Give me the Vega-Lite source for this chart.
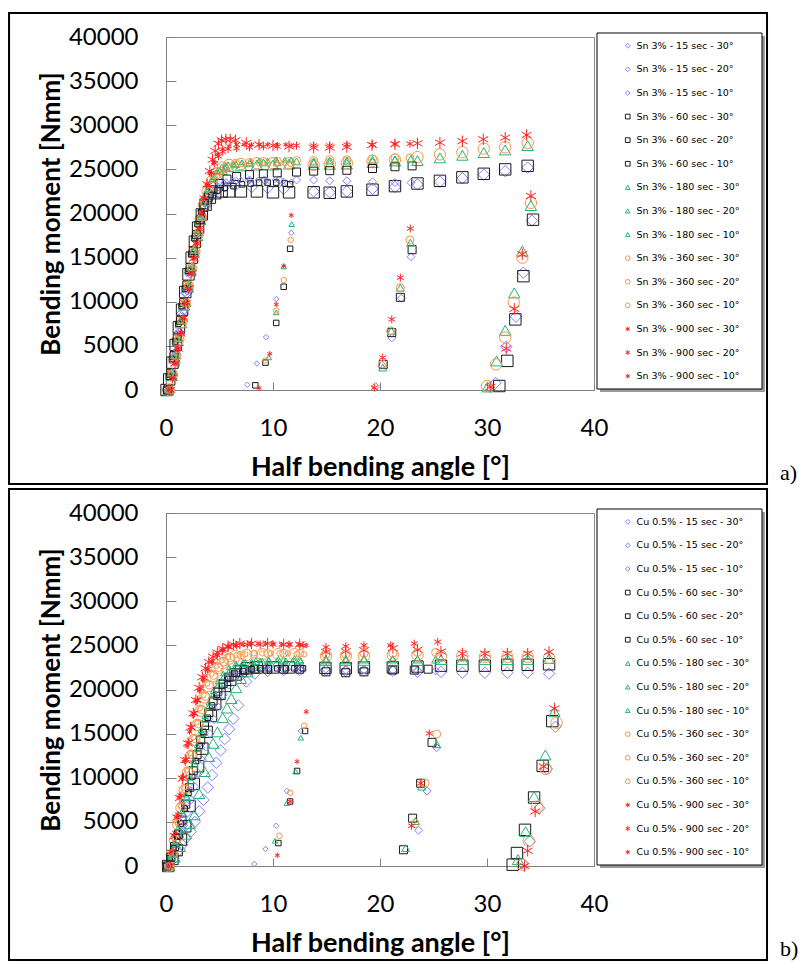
{
"$schema": "https://vega.github.io/schema/vega-lite/v6.json",
"padding": {"left": 7, "top": 11, "right": 0, "bottom": 0},
"background": "white",
"config": {
  "view": {"stroke": "#8c8c8c", "strokeWidth": 1},
  "axis": {"grid": false, "labelFont": "Lato", "labelFontSize": 24, "labelColor": "#000000", "titleFont": "Lato", "titleFontWeight": "bold", "titleColor": "#000000", "domainColor": "#808080", "tickColor": "#808080", "domainWidth": 1, "tickWidth": 1, "labelFlush": false},
  "axisX": {"tickSize": -8, "labelPadding": 34, "titlePadding": 14, "titleFontSize": 27},
  "axisY": {"tickSize": -10, "labelPadding": 38, "titlePadding": 4, "titleFontSize": 26},
  "legend": {"padding": 0, "labelFont": "DejaVu Sans", "labelFontSize": 9.5, "labelColor": "#000000", "symbolSize": 22, "symbolStrokeWidth": 1, "rowPadding": 12.6, "labelOffset": 4},
  "concat": {"spacing": 1}
},
"resolve": {"scale": {"color": "independent", "shape": "independent"}, "legend": {"color": "independent", "shape": "independent"}},
"datasets": {
"a": [
{"s":"Sn 3% - 15 sec - 30°","x":0.15,"y":0},{"s":"Sn 3% - 15 sec - 30°","x":0.5,"y":1800},{"s":"Sn 3% - 15 sec - 30°","x":0.85,"y":4100},{"s":"Sn 3% - 15 sec - 30°","x":1.2,"y":6400},{"s":"Sn 3% - 15 sec - 30°","x":1.55,"y":8700},{"s":"Sn 3% - 15 sec - 30°","x":1.9,"y":11000},{"s":"Sn 3% - 15 sec - 30°","x":2.25,"y":13300},{"s":"Sn 3% - 15 sec - 30°","x":2.6,"y":15500},{"s":"Sn 3% - 15 sec - 30°","x":2.95,"y":17600},{"s":"Sn 3% - 15 sec - 30°","x":3.3,"y":19400},{"s":"Sn 3% - 15 sec - 30°","x":3.7,"y":20900},{"s":"Sn 3% - 15 sec - 30°","x":4.2,"y":22000},{"s":"Sn 3% - 15 sec - 30°","x":4.8,"y":22700},{"s":"Sn 3% - 15 sec - 30°","x":5.5,"y":23100},{"s":"Sn 3% - 15 sec - 30°","x":6.5,"y":23200},{"s":"Sn 3% - 15 sec - 30°","x":8.0,"y":23000},{"s":"Sn 3% - 15 sec - 30°","x":9.5,"y":22900},{"s":"Sn 3% - 15 sec - 30°","x":11.0,"y":22800},{"s":"Sn 3% - 15 sec - 30°","x":13.8,"y":22500},{"s":"Sn 3% - 15 sec - 30°","x":15.3,"y":22400},{"s":"Sn 3% - 15 sec - 30°","x":16.9,"y":22500},{"s":"Sn 3% - 15 sec - 30°","x":19.3,"y":22800},{"s":"Sn 3% - 15 sec - 30°","x":21.4,"y":23000},{"s":"Sn 3% - 15 sec - 30°","x":23.5,"y":23300},{"s":"Sn 3% - 15 sec - 30°","x":25.6,"y":23600},{"s":"Sn 3% - 15 sec - 30°","x":27.7,"y":24000},{"s":"Sn 3% - 15 sec - 30°","x":29.7,"y":24400},{"s":"Sn 3% - 15 sec - 30°","x":31.7,"y":24800},{"s":"Sn 3% - 15 sec - 30°","x":33.8,"y":25200},{"s":"Sn 3% - 15 sec - 30°","x":34.2,"y":19200},{"s":"Sn 3% - 15 sec - 30°","x":33.4,"y":13300},{"s":"Sn 3% - 15 sec - 30°","x":32.7,"y":8300},{"s":"Sn 3% - 15 sec - 30°","x":31.8,"y":4900},{"s":"Sn 3% - 15 sec - 30°","x":30.8,"y":800},
{"s":"Sn 3% - 15 sec - 20°","x":0.25,"y":0},{"s":"Sn 3% - 15 sec - 20°","x":0.6,"y":2000},{"s":"Sn 3% - 15 sec - 20°","x":0.95,"y":4300},{"s":"Sn 3% - 15 sec - 20°","x":1.3,"y":6600},{"s":"Sn 3% - 15 sec - 20°","x":1.65,"y":8900},{"s":"Sn 3% - 15 sec - 20°","x":2.0,"y":11200},{"s":"Sn 3% - 15 sec - 20°","x":2.35,"y":13500},{"s":"Sn 3% - 15 sec - 20°","x":2.7,"y":15700},{"s":"Sn 3% - 15 sec - 20°","x":3.05,"y":17700},{"s":"Sn 3% - 15 sec - 20°","x":3.4,"y":19500},{"s":"Sn 3% - 15 sec - 20°","x":3.8,"y":21000},{"s":"Sn 3% - 15 sec - 20°","x":4.3,"y":22200},{"s":"Sn 3% - 15 sec - 20°","x":4.9,"y":23000},{"s":"Sn 3% - 15 sec - 20°","x":5.6,"y":23500},{"s":"Sn 3% - 15 sec - 20°","x":6.5,"y":23700},{"s":"Sn 3% - 15 sec - 20°","x":7.8,"y":23800},{"s":"Sn 3% - 15 sec - 20°","x":9.2,"y":23800},{"s":"Sn 3% - 15 sec - 20°","x":10.6,"y":23800},{"s":"Sn 3% - 15 sec - 20°","x":12.2,"y":23800},{"s":"Sn 3% - 15 sec - 20°","x":13.8,"y":23800},{"s":"Sn 3% - 15 sec - 20°","x":15.3,"y":23700},{"s":"Sn 3% - 15 sec - 20°","x":16.9,"y":23700},{"s":"Sn 3% - 15 sec - 20°","x":19.3,"y":23600},{"s":"Sn 3% - 15 sec - 20°","x":21.4,"y":23500},{"s":"Sn 3% - 15 sec - 20°","x":22.9,"y":23500},{"s":"Sn 3% - 15 sec - 20°","x":22.9,"y":15100},{"s":"Sn 3% - 15 sec - 20°","x":22.0,"y":10400},{"s":"Sn 3% - 15 sec - 20°","x":21.1,"y":5900},{"s":"Sn 3% - 15 sec - 20°","x":20.2,"y":2800},{"s":"Sn 3% - 15 sec - 20°","x":19.6,"y":400},
{"s":"Sn 3% - 15 sec - 10°","x":0.1,"y":0},{"s":"Sn 3% - 15 sec - 10°","x":0.4,"y":1800},{"s":"Sn 3% - 15 sec - 10°","x":0.75,"y":4000},{"s":"Sn 3% - 15 sec - 10°","x":1.1,"y":6300},{"s":"Sn 3% - 15 sec - 10°","x":1.45,"y":8600},{"s":"Sn 3% - 15 sec - 10°","x":1.8,"y":10900},{"s":"Sn 3% - 15 sec - 10°","x":2.15,"y":13200},{"s":"Sn 3% - 15 sec - 10°","x":2.5,"y":15400},{"s":"Sn 3% - 15 sec - 10°","x":2.85,"y":17500},{"s":"Sn 3% - 15 sec - 10°","x":3.2,"y":19400},{"s":"Sn 3% - 15 sec - 10°","x":3.6,"y":21000},{"s":"Sn 3% - 15 sec - 10°","x":4.1,"y":22300},{"s":"Sn 3% - 15 sec - 10°","x":4.7,"y":23100},{"s":"Sn 3% - 15 sec - 10°","x":5.4,"y":23500},{"s":"Sn 3% - 15 sec - 10°","x":6.2,"y":23700},{"s":"Sn 3% - 15 sec - 10°","x":7.0,"y":23800},{"s":"Sn 3% - 15 sec - 10°","x":7.8,"y":23800},{"s":"Sn 3% - 15 sec - 10°","x":8.6,"y":23800},{"s":"Sn 3% - 15 sec - 10°","x":9.4,"y":23800},{"s":"Sn 3% - 15 sec - 10°","x":10.2,"y":23800},{"s":"Sn 3% - 15 sec - 10°","x":11.0,"y":23700},{"s":"Sn 3% - 15 sec - 10°","x":11.7,"y":23600},{"s":"Sn 3% - 15 sec - 10°","x":11.7,"y":17800},{"s":"Sn 3% - 15 sec - 10°","x":10.3,"y":10300},{"s":"Sn 3% - 15 sec - 10°","x":9.35,"y":6000},{"s":"Sn 3% - 15 sec - 10°","x":8.5,"y":3000},{"s":"Sn 3% - 15 sec - 10°","x":7.6,"y":600},
{"s":"Sn 3% - 60 sec - 30°","x":0.05,"y":0},{"s":"Sn 3% - 60 sec - 30°","x":0.3,"y":1200},{"s":"Sn 3% - 60 sec - 30°","x":0.6,"y":3100},{"s":"Sn 3% - 60 sec - 30°","x":0.9,"y":5100},{"s":"Sn 3% - 60 sec - 30°","x":1.2,"y":7100},{"s":"Sn 3% - 60 sec - 30°","x":1.5,"y":9100},{"s":"Sn 3% - 60 sec - 30°","x":1.8,"y":11100},{"s":"Sn 3% - 60 sec - 30°","x":2.1,"y":13100},{"s":"Sn 3% - 60 sec - 30°","x":2.4,"y":15000},{"s":"Sn 3% - 60 sec - 30°","x":2.7,"y":16800},{"s":"Sn 3% - 60 sec - 30°","x":3.0,"y":18400},{"s":"Sn 3% - 60 sec - 30°","x":3.35,"y":19900},{"s":"Sn 3% - 60 sec - 30°","x":3.7,"y":21000},{"s":"Sn 3% - 60 sec - 30°","x":4.1,"y":21800},{"s":"Sn 3% - 60 sec - 30°","x":4.6,"y":22300},{"s":"Sn 3% - 60 sec - 30°","x":5.2,"y":22500},{"s":"Sn 3% - 60 sec - 30°","x":5.9,"y":22500},{"s":"Sn 3% - 60 sec - 30°","x":7.0,"y":22500},{"s":"Sn 3% - 60 sec - 30°","x":8.5,"y":22500},{"s":"Sn 3% - 60 sec - 30°","x":10.0,"y":22400},{"s":"Sn 3% - 60 sec - 30°","x":11.5,"y":22400},{"s":"Sn 3% - 60 sec - 30°","x":13.8,"y":22400},{"s":"Sn 3% - 60 sec - 30°","x":15.3,"y":22350},{"s":"Sn 3% - 60 sec - 30°","x":16.9,"y":22500},{"s":"Sn 3% - 60 sec - 30°","x":19.3,"y":22700},{"s":"Sn 3% - 60 sec - 30°","x":21.4,"y":23100},{"s":"Sn 3% - 60 sec - 30°","x":23.5,"y":23400},{"s":"Sn 3% - 60 sec - 30°","x":25.6,"y":23700},{"s":"Sn 3% - 60 sec - 30°","x":27.7,"y":24100},{"s":"Sn 3% - 60 sec - 30°","x":29.7,"y":24500},{"s":"Sn 3% - 60 sec - 30°","x":31.7,"y":25000},{"s":"Sn 3% - 60 sec - 30°","x":33.8,"y":25400},{"s":"Sn 3% - 60 sec - 30°","x":34.3,"y":19300},{"s":"Sn 3% - 60 sec - 30°","x":33.4,"y":12900},{"s":"Sn 3% - 60 sec - 30°","x":32.65,"y":8000},{"s":"Sn 3% - 60 sec - 30°","x":31.9,"y":3300},{"s":"Sn 3% - 60 sec - 30°","x":31.15,"y":450},
{"s":"Sn 3% - 60 sec - 20°","x":0.15,"y":0},{"s":"Sn 3% - 60 sec - 20°","x":0.45,"y":1900},{"s":"Sn 3% - 60 sec - 20°","x":0.75,"y":3900},{"s":"Sn 3% - 60 sec - 20°","x":1.05,"y":5900},{"s":"Sn 3% - 60 sec - 20°","x":1.35,"y":7900},{"s":"Sn 3% - 60 sec - 20°","x":1.65,"y":9900},{"s":"Sn 3% - 60 sec - 20°","x":1.95,"y":11900},{"s":"Sn 3% - 60 sec - 20°","x":2.25,"y":13900},{"s":"Sn 3% - 60 sec - 20°","x":2.55,"y":15800},{"s":"Sn 3% - 60 sec - 20°","x":2.85,"y":17600},{"s":"Sn 3% - 60 sec - 20°","x":3.2,"y":19300},{"s":"Sn 3% - 60 sec - 20°","x":3.55,"y":20700},{"s":"Sn 3% - 60 sec - 20°","x":3.95,"y":21800},{"s":"Sn 3% - 60 sec - 20°","x":4.4,"y":22700},{"s":"Sn 3% - 60 sec - 20°","x":5.0,"y":23400},{"s":"Sn 3% - 60 sec - 20°","x":5.7,"y":23900},{"s":"Sn 3% - 60 sec - 20°","x":6.6,"y":24200},{"s":"Sn 3% - 60 sec - 20°","x":7.8,"y":24400},{"s":"Sn 3% - 60 sec - 20°","x":9.1,"y":24500},{"s":"Sn 3% - 60 sec - 20°","x":10.4,"y":24600},{"s":"Sn 3% - 60 sec - 20°","x":12.2,"y":24700},{"s":"Sn 3% - 60 sec - 20°","x":13.8,"y":24800},{"s":"Sn 3% - 60 sec - 20°","x":15.3,"y":24850},{"s":"Sn 3% - 60 sec - 20°","x":16.9,"y":24900},{"s":"Sn 3% - 60 sec - 20°","x":19.3,"y":25100},{"s":"Sn 3% - 60 sec - 20°","x":21.4,"y":25300},{"s":"Sn 3% - 60 sec - 20°","x":23.0,"y":25400},{"s":"Sn 3% - 60 sec - 20°","x":23.0,"y":15900},{"s":"Sn 3% - 60 sec - 20°","x":21.9,"y":10500},{"s":"Sn 3% - 60 sec - 20°","x":21.1,"y":6500},{"s":"Sn 3% - 60 sec - 20°","x":20.3,"y":2900},
{"s":"Sn 3% - 60 sec - 10°","x":0.0,"y":0},{"s":"Sn 3% - 60 sec - 10°","x":0.25,"y":1500},{"s":"Sn 3% - 60 sec - 10°","x":0.55,"y":3500},{"s":"Sn 3% - 60 sec - 10°","x":0.85,"y":5500},{"s":"Sn 3% - 60 sec - 10°","x":1.15,"y":7500},{"s":"Sn 3% - 60 sec - 10°","x":1.45,"y":9500},{"s":"Sn 3% - 60 sec - 10°","x":1.75,"y":11500},{"s":"Sn 3% - 60 sec - 10°","x":2.05,"y":13500},{"s":"Sn 3% - 60 sec - 10°","x":2.35,"y":15400},{"s":"Sn 3% - 60 sec - 10°","x":2.65,"y":17200},{"s":"Sn 3% - 60 sec - 10°","x":2.95,"y":18800},{"s":"Sn 3% - 60 sec - 10°","x":3.3,"y":20200},{"s":"Sn 3% - 60 sec - 10°","x":3.7,"y":21300},{"s":"Sn 3% - 60 sec - 10°","x":4.2,"y":22100},{"s":"Sn 3% - 60 sec - 10°","x":4.8,"y":22600},{"s":"Sn 3% - 60 sec - 10°","x":5.5,"y":22900},{"s":"Sn 3% - 60 sec - 10°","x":6.3,"y":23100},{"s":"Sn 3% - 60 sec - 10°","x":7.1,"y":23300},{"s":"Sn 3% - 60 sec - 10°","x":7.9,"y":23400},{"s":"Sn 3% - 60 sec - 10°","x":8.7,"y":23500},{"s":"Sn 3% - 60 sec - 10°","x":9.5,"y":23500},{"s":"Sn 3% - 60 sec - 10°","x":10.3,"y":23500},{"s":"Sn 3% - 60 sec - 10°","x":11.1,"y":23400},{"s":"Sn 3% - 60 sec - 10°","x":11.6,"y":23300},{"s":"Sn 3% - 60 sec - 10°","x":11.6,"y":16000},{"s":"Sn 3% - 60 sec - 10°","x":11.0,"y":11700},{"s":"Sn 3% - 60 sec - 10°","x":10.3,"y":7600},{"s":"Sn 3% - 60 sec - 10°","x":9.3,"y":3100},{"s":"Sn 3% - 60 sec - 10°","x":8.35,"y":530},
{"s":"Sn 3% - 180 sec - 30°","x":0.2,"y":0},{"s":"Sn 3% - 180 sec - 30°","x":0.5,"y":1600},{"s":"Sn 3% - 180 sec - 30°","x":0.8,"y":3600},{"s":"Sn 3% - 180 sec - 30°","x":1.1,"y":5600},{"s":"Sn 3% - 180 sec - 30°","x":1.4,"y":7600},{"s":"Sn 3% - 180 sec - 30°","x":1.7,"y":9600},{"s":"Sn 3% - 180 sec - 30°","x":2.0,"y":11600},{"s":"Sn 3% - 180 sec - 30°","x":2.3,"y":13600},{"s":"Sn 3% - 180 sec - 30°","x":2.6,"y":15600},{"s":"Sn 3% - 180 sec - 30°","x":2.9,"y":17500},{"s":"Sn 3% - 180 sec - 30°","x":3.2,"y":19300},{"s":"Sn 3% - 180 sec - 30°","x":3.5,"y":20900},{"s":"Sn 3% - 180 sec - 30°","x":3.85,"y":22300},{"s":"Sn 3% - 180 sec - 30°","x":4.25,"y":23500},{"s":"Sn 3% - 180 sec - 30°","x":4.7,"y":24400},{"s":"Sn 3% - 180 sec - 30°","x":5.2,"y":25000},{"s":"Sn 3% - 180 sec - 30°","x":5.8,"y":25300},{"s":"Sn 3% - 180 sec - 30°","x":7.0,"y":25400},{"s":"Sn 3% - 180 sec - 30°","x":8.5,"y":25500},{"s":"Sn 3% - 180 sec - 30°","x":10.0,"y":25500},{"s":"Sn 3% - 180 sec - 30°","x":11.5,"y":25600},{"s":"Sn 3% - 180 sec - 30°","x":13.8,"y":25570},{"s":"Sn 3% - 180 sec - 30°","x":15.3,"y":25570},{"s":"Sn 3% - 180 sec - 30°","x":16.9,"y":25600},{"s":"Sn 3% - 180 sec - 30°","x":19.3,"y":25760},{"s":"Sn 3% - 180 sec - 30°","x":21.4,"y":25950},{"s":"Sn 3% - 180 sec - 30°","x":23.5,"y":26000},{"s":"Sn 3% - 180 sec - 30°","x":25.6,"y":26300},{"s":"Sn 3% - 180 sec - 30°","x":27.7,"y":26600},{"s":"Sn 3% - 180 sec - 30°","x":29.7,"y":26900},{"s":"Sn 3% - 180 sec - 30°","x":31.7,"y":27200},{"s":"Sn 3% - 180 sec - 30°","x":33.8,"y":27700},{"s":"Sn 3% - 180 sec - 30°","x":34.1,"y":20900},{"s":"Sn 3% - 180 sec - 30°","x":33.3,"y":15750},{"s":"Sn 3% - 180 sec - 30°","x":32.55,"y":11000},{"s":"Sn 3% - 180 sec - 30°","x":31.7,"y":6760},{"s":"Sn 3% - 180 sec - 30°","x":30.9,"y":3290},{"s":"Sn 3% - 180 sec - 30°","x":30.06,"y":340},
{"s":"Sn 3% - 180 sec - 20°","x":0.3,"y":0},{"s":"Sn 3% - 180 sec - 20°","x":0.6,"y":1900},{"s":"Sn 3% - 180 sec - 20°","x":0.9,"y":3900},{"s":"Sn 3% - 180 sec - 20°","x":1.2,"y":5900},{"s":"Sn 3% - 180 sec - 20°","x":1.5,"y":7900},{"s":"Sn 3% - 180 sec - 20°","x":1.8,"y":9900},{"s":"Sn 3% - 180 sec - 20°","x":2.1,"y":11900},{"s":"Sn 3% - 180 sec - 20°","x":2.4,"y":13900},{"s":"Sn 3% - 180 sec - 20°","x":2.7,"y":15900},{"s":"Sn 3% - 180 sec - 20°","x":3.0,"y":17800},{"s":"Sn 3% - 180 sec - 20°","x":3.3,"y":19600},{"s":"Sn 3% - 180 sec - 20°","x":3.65,"y":21300},{"s":"Sn 3% - 180 sec - 20°","x":4.0,"y":22700},{"s":"Sn 3% - 180 sec - 20°","x":4.45,"y":23900},{"s":"Sn 3% - 180 sec - 20°","x":5.0,"y":24800},{"s":"Sn 3% - 180 sec - 20°","x":5.6,"y":25300},{"s":"Sn 3% - 180 sec - 20°","x":6.5,"y":25600},{"s":"Sn 3% - 180 sec - 20°","x":7.8,"y":25700},{"s":"Sn 3% - 180 sec - 20°","x":9.1,"y":25800},{"s":"Sn 3% - 180 sec - 20°","x":10.4,"y":25800},{"s":"Sn 3% - 180 sec - 20°","x":12.2,"y":25900},{"s":"Sn 3% - 180 sec - 20°","x":13.8,"y":25900},{"s":"Sn 3% - 180 sec - 20°","x":15.3,"y":26000},{"s":"Sn 3% - 180 sec - 20°","x":16.9,"y":26000},{"s":"Sn 3% - 180 sec - 20°","x":19.3,"y":26100},{"s":"Sn 3% - 180 sec - 20°","x":21.4,"y":26100},{"s":"Sn 3% - 180 sec - 20°","x":22.9,"y":26200},{"s":"Sn 3% - 180 sec - 20°","x":22.85,"y":16700},{"s":"Sn 3% - 180 sec - 20°","x":21.9,"y":11600},{"s":"Sn 3% - 180 sec - 20°","x":21.05,"y":6700},{"s":"Sn 3% - 180 sec - 20°","x":20.25,"y":2550},
{"s":"Sn 3% - 180 sec - 10°","x":0.1,"y":0},{"s":"Sn 3% - 180 sec - 10°","x":0.4,"y":1800},{"s":"Sn 3% - 180 sec - 10°","x":0.7,"y":3800},{"s":"Sn 3% - 180 sec - 10°","x":1.0,"y":5800},{"s":"Sn 3% - 180 sec - 10°","x":1.3,"y":7800},{"s":"Sn 3% - 180 sec - 10°","x":1.6,"y":9800},{"s":"Sn 3% - 180 sec - 10°","x":1.9,"y":11800},{"s":"Sn 3% - 180 sec - 10°","x":2.2,"y":13800},{"s":"Sn 3% - 180 sec - 10°","x":2.5,"y":15800},{"s":"Sn 3% - 180 sec - 10°","x":2.8,"y":17700},{"s":"Sn 3% - 180 sec - 10°","x":3.1,"y":19500},{"s":"Sn 3% - 180 sec - 10°","x":3.45,"y":21200},{"s":"Sn 3% - 180 sec - 10°","x":3.85,"y":22700},{"s":"Sn 3% - 180 sec - 10°","x":4.3,"y":23900},{"s":"Sn 3% - 180 sec - 10°","x":4.8,"y":24800},{"s":"Sn 3% - 180 sec - 10°","x":5.5,"y":25300},{"s":"Sn 3% - 180 sec - 10°","x":6.3,"y":25600},{"s":"Sn 3% - 180 sec - 10°","x":7.1,"y":25800},{"s":"Sn 3% - 180 sec - 10°","x":7.9,"y":25900},{"s":"Sn 3% - 180 sec - 10°","x":8.7,"y":26000},{"s":"Sn 3% - 180 sec - 10°","x":9.5,"y":26000},{"s":"Sn 3% - 180 sec - 10°","x":10.3,"y":26100},{"s":"Sn 3% - 180 sec - 10°","x":11.1,"y":26100},{"s":"Sn 3% - 180 sec - 10°","x":11.7,"y":26100},{"s":"Sn 3% - 180 sec - 10°","x":11.75,"y":18800},{"s":"Sn 3% - 180 sec - 10°","x":11.0,"y":14000},{"s":"Sn 3% - 180 sec - 10°","x":10.3,"y":8800},{"s":"Sn 3% - 180 sec - 10°","x":9.6,"y":3700},
{"s":"Sn 3% - 360 sec - 30°","x":0.25,"y":0},{"s":"Sn 3% - 360 sec - 30°","x":0.55,"y":1700},{"s":"Sn 3% - 360 sec - 30°","x":0.85,"y":3700},{"s":"Sn 3% - 360 sec - 30°","x":1.15,"y":5700},{"s":"Sn 3% - 360 sec - 30°","x":1.45,"y":7700},{"s":"Sn 3% - 360 sec - 30°","x":1.75,"y":9700},{"s":"Sn 3% - 360 sec - 30°","x":2.05,"y":11700},{"s":"Sn 3% - 360 sec - 30°","x":2.35,"y":13700},{"s":"Sn 3% - 360 sec - 30°","x":2.65,"y":15700},{"s":"Sn 3% - 360 sec - 30°","x":2.95,"y":17600},{"s":"Sn 3% - 360 sec - 30°","x":3.25,"y":19400},{"s":"Sn 3% - 360 sec - 30°","x":3.55,"y":21000},{"s":"Sn 3% - 360 sec - 30°","x":3.9,"y":22500},{"s":"Sn 3% - 360 sec - 30°","x":4.3,"y":23700},{"s":"Sn 3% - 360 sec - 30°","x":4.75,"y":24600},{"s":"Sn 3% - 360 sec - 30°","x":5.3,"y":25200},{"s":"Sn 3% - 360 sec - 30°","x":5.9,"y":25500},{"s":"Sn 3% - 360 sec - 30°","x":7.0,"y":25600},{"s":"Sn 3% - 360 sec - 30°","x":8.5,"y":25700},{"s":"Sn 3% - 360 sec - 30°","x":10.0,"y":25700},{"s":"Sn 3% - 360 sec - 30°","x":11.5,"y":25700},{"s":"Sn 3% - 360 sec - 30°","x":13.8,"y":25500},{"s":"Sn 3% - 360 sec - 30°","x":15.3,"y":25600},{"s":"Sn 3% - 360 sec - 30°","x":16.9,"y":25700},{"s":"Sn 3% - 360 sec - 30°","x":19.3,"y":25950},{"s":"Sn 3% - 360 sec - 30°","x":21.4,"y":26100},{"s":"Sn 3% - 360 sec - 30°","x":23.5,"y":26400},{"s":"Sn 3% - 360 sec - 30°","x":25.6,"y":26700},{"s":"Sn 3% - 360 sec - 30°","x":27.7,"y":26950},{"s":"Sn 3% - 360 sec - 30°","x":29.7,"y":27350},{"s":"Sn 3% - 360 sec - 30°","x":31.7,"y":27500},{"s":"Sn 3% - 360 sec - 30°","x":33.8,"y":28000},{"s":"Sn 3% - 360 sec - 30°","x":34.1,"y":21200},{"s":"Sn 3% - 360 sec - 30°","x":33.3,"y":15000},{"s":"Sn 3% - 360 sec - 30°","x":32.5,"y":9900},{"s":"Sn 3% - 360 sec - 30°","x":31.7,"y":5950},{"s":"Sn 3% - 360 sec - 30°","x":30.84,"y":2910},{"s":"Sn 3% - 360 sec - 30°","x":30.0,"y":450},
{"s":"Sn 3% - 360 sec - 20°","x":0.35,"y":0},{"s":"Sn 3% - 360 sec - 20°","x":0.65,"y":1900},{"s":"Sn 3% - 360 sec - 20°","x":0.95,"y":3900},{"s":"Sn 3% - 360 sec - 20°","x":1.25,"y":5900},{"s":"Sn 3% - 360 sec - 20°","x":1.55,"y":7900},{"s":"Sn 3% - 360 sec - 20°","x":1.85,"y":9900},{"s":"Sn 3% - 360 sec - 20°","x":2.15,"y":11900},{"s":"Sn 3% - 360 sec - 20°","x":2.45,"y":13900},{"s":"Sn 3% - 360 sec - 20°","x":2.75,"y":15900},{"s":"Sn 3% - 360 sec - 20°","x":3.05,"y":17800},{"s":"Sn 3% - 360 sec - 20°","x":3.35,"y":19600},{"s":"Sn 3% - 360 sec - 20°","x":3.7,"y":21300},{"s":"Sn 3% - 360 sec - 20°","x":4.05,"y":22700},{"s":"Sn 3% - 360 sec - 20°","x":4.5,"y":23900},{"s":"Sn 3% - 360 sec - 20°","x":5.05,"y":24800},{"s":"Sn 3% - 360 sec - 20°","x":5.65,"y":25300},{"s":"Sn 3% - 360 sec - 20°","x":6.5,"y":25700},{"s":"Sn 3% - 360 sec - 20°","x":7.8,"y":25800},{"s":"Sn 3% - 360 sec - 20°","x":9.1,"y":25900},{"s":"Sn 3% - 360 sec - 20°","x":10.4,"y":25900},{"s":"Sn 3% - 360 sec - 20°","x":12.2,"y":26000},{"s":"Sn 3% - 360 sec - 20°","x":13.8,"y":26000},{"s":"Sn 3% - 360 sec - 20°","x":15.3,"y":26100},{"s":"Sn 3% - 360 sec - 20°","x":16.9,"y":26100},{"s":"Sn 3% - 360 sec - 20°","x":19.3,"y":26200},{"s":"Sn 3% - 360 sec - 20°","x":21.4,"y":26300},{"s":"Sn 3% - 360 sec - 20°","x":22.8,"y":26300},{"s":"Sn 3% - 360 sec - 20°","x":22.8,"y":17000},{"s":"Sn 3% - 360 sec - 20°","x":21.9,"y":11600},{"s":"Sn 3% - 360 sec - 20°","x":21.0,"y":6700},{"s":"Sn 3% - 360 sec - 20°","x":20.25,"y":2930},
{"s":"Sn 3% - 360 sec - 10°","x":0.15,"y":0},{"s":"Sn 3% - 360 sec - 10°","x":0.45,"y":1800},{"s":"Sn 3% - 360 sec - 10°","x":0.75,"y":3800},{"s":"Sn 3% - 360 sec - 10°","x":1.05,"y":5800},{"s":"Sn 3% - 360 sec - 10°","x":1.35,"y":7800},{"s":"Sn 3% - 360 sec - 10°","x":1.65,"y":9800},{"s":"Sn 3% - 360 sec - 10°","x":1.95,"y":11800},{"s":"Sn 3% - 360 sec - 10°","x":2.25,"y":13800},{"s":"Sn 3% - 360 sec - 10°","x":2.55,"y":15800},{"s":"Sn 3% - 360 sec - 10°","x":2.85,"y":17700},{"s":"Sn 3% - 360 sec - 10°","x":3.15,"y":19500},{"s":"Sn 3% - 360 sec - 10°","x":3.5,"y":21200},{"s":"Sn 3% - 360 sec - 10°","x":3.9,"y":22700},{"s":"Sn 3% - 360 sec - 10°","x":4.35,"y":23800},{"s":"Sn 3% - 360 sec - 10°","x":4.85,"y":24700},{"s":"Sn 3% - 360 sec - 10°","x":5.5,"y":25200},{"s":"Sn 3% - 360 sec - 10°","x":6.3,"y":25500},{"s":"Sn 3% - 360 sec - 10°","x":7.1,"y":25600},{"s":"Sn 3% - 360 sec - 10°","x":7.9,"y":25700},{"s":"Sn 3% - 360 sec - 10°","x":8.7,"y":25700},{"s":"Sn 3% - 360 sec - 10°","x":9.5,"y":25700},{"s":"Sn 3% - 360 sec - 10°","x":10.3,"y":25700},{"s":"Sn 3% - 360 sec - 10°","x":11.1,"y":25700},{"s":"Sn 3% - 360 sec - 10°","x":11.65,"y":25600},{"s":"Sn 3% - 360 sec - 10°","x":11.65,"y":17000},{"s":"Sn 3% - 360 sec - 10°","x":11.0,"y":12460},{"s":"Sn 3% - 360 sec - 10°","x":10.3,"y":9000},{"s":"Sn 3% - 360 sec - 10°","x":9.3,"y":3350},
{"s":"Sn 3% - 900 sec - 30°","x":0.35,"y":0},{"s":"Sn 3% - 900 sec - 30°","x":0.6,"y":1400},{"s":"Sn 3% - 900 sec - 30°","x":0.85,"y":3000},{"s":"Sn 3% - 900 sec - 30°","x":1.1,"y":4700},{"s":"Sn 3% - 900 sec - 30°","x":1.35,"y":6400},{"s":"Sn 3% - 900 sec - 30°","x":1.6,"y":8100},{"s":"Sn 3% - 900 sec - 30°","x":1.85,"y":9800},{"s":"Sn 3% - 900 sec - 30°","x":2.1,"y":11500},{"s":"Sn 3% - 900 sec - 30°","x":2.35,"y":13200},{"s":"Sn 3% - 900 sec - 30°","x":2.6,"y":14900},{"s":"Sn 3% - 900 sec - 30°","x":2.85,"y":16600},{"s":"Sn 3% - 900 sec - 30°","x":3.1,"y":18300},{"s":"Sn 3% - 900 sec - 30°","x":3.35,"y":20000},{"s":"Sn 3% - 900 sec - 30°","x":3.6,"y":21700},{"s":"Sn 3% - 900 sec - 30°","x":3.85,"y":23300},{"s":"Sn 3% - 900 sec - 30°","x":4.1,"y":24800},{"s":"Sn 3% - 900 sec - 30°","x":4.35,"y":26100},{"s":"Sn 3% - 900 sec - 30°","x":4.6,"y":27100},{"s":"Sn 3% - 900 sec - 30°","x":4.9,"y":27900},{"s":"Sn 3% - 900 sec - 30°","x":5.2,"y":28300},{"s":"Sn 3% - 900 sec - 30°","x":5.6,"y":28400},{"s":"Sn 3% - 900 sec - 30°","x":6.0,"y":28400},{"s":"Sn 3% - 900 sec - 30°","x":6.5,"y":28300},{"s":"Sn 3% - 900 sec - 30°","x":7.5,"y":28000},{"s":"Sn 3% - 900 sec - 30°","x":8.7,"y":27800},{"s":"Sn 3% - 900 sec - 30°","x":10.0,"y":27700},{"s":"Sn 3% - 900 sec - 30°","x":11.5,"y":27600},{"s":"Sn 3% - 900 sec - 30°","x":13.8,"y":27460},{"s":"Sn 3% - 900 sec - 30°","x":15.3,"y":27460},{"s":"Sn 3% - 900 sec - 30°","x":16.9,"y":27540},{"s":"Sn 3% - 900 sec - 30°","x":19.25,"y":27760},{"s":"Sn 3% - 900 sec - 30°","x":21.4,"y":27840},{"s":"Sn 3% - 900 sec - 30°","x":23.5,"y":27950},{"s":"Sn 3% - 900 sec - 30°","x":25.6,"y":28030},{"s":"Sn 3% - 900 sec - 30°","x":27.7,"y":28200},{"s":"Sn 3% - 900 sec - 30°","x":29.65,"y":28410},{"s":"Sn 3% - 900 sec - 30°","x":31.7,"y":28600},{"s":"Sn 3% - 900 sec - 30°","x":33.7,"y":28900},{"s":"Sn 3% - 900 sec - 30°","x":34.1,"y":22000},{"s":"Sn 3% - 900 sec - 30°","x":33.3,"y":15380},{"s":"Sn 3% - 900 sec - 30°","x":32.55,"y":9200},{"s":"Sn 3% - 900 sec - 30°","x":31.8,"y":4700},{"s":"Sn 3% - 900 sec - 30°","x":30.3,"y":340},
{"s":"Sn 3% - 900 sec - 20°","x":0.45,"y":0},{"s":"Sn 3% - 900 sec - 20°","x":0.7,"y":1500},{"s":"Sn 3% - 900 sec - 20°","x":0.95,"y":3100},{"s":"Sn 3% - 900 sec - 20°","x":1.2,"y":4800},{"s":"Sn 3% - 900 sec - 20°","x":1.45,"y":6500},{"s":"Sn 3% - 900 sec - 20°","x":1.7,"y":8200},{"s":"Sn 3% - 900 sec - 20°","x":1.95,"y":9900},{"s":"Sn 3% - 900 sec - 20°","x":2.2,"y":11600},{"s":"Sn 3% - 900 sec - 20°","x":2.45,"y":13300},{"s":"Sn 3% - 900 sec - 20°","x":2.7,"y":15000},{"s":"Sn 3% - 900 sec - 20°","x":2.95,"y":16700},{"s":"Sn 3% - 900 sec - 20°","x":3.2,"y":18400},{"s":"Sn 3% - 900 sec - 20°","x":3.45,"y":20100},{"s":"Sn 3% - 900 sec - 20°","x":3.7,"y":21700},{"s":"Sn 3% - 900 sec - 20°","x":3.95,"y":23200},{"s":"Sn 3% - 900 sec - 20°","x":4.25,"y":24600},{"s":"Sn 3% - 900 sec - 20°","x":4.55,"y":25700},{"s":"Sn 3% - 900 sec - 20°","x":4.9,"y":26500},{"s":"Sn 3% - 900 sec - 20°","x":5.3,"y":27000},{"s":"Sn 3% - 900 sec - 20°","x":5.8,"y":27300},{"s":"Sn 3% - 900 sec - 20°","x":6.6,"y":27400},{"s":"Sn 3% - 900 sec - 20°","x":7.8,"y":27500},{"s":"Sn 3% - 900 sec - 20°","x":9.1,"y":27600},{"s":"Sn 3% - 900 sec - 20°","x":10.4,"y":27600},{"s":"Sn 3% - 900 sec - 20°","x":12.2,"y":27700},{"s":"Sn 3% - 900 sec - 20°","x":13.8,"y":27700},{"s":"Sn 3% - 900 sec - 20°","x":15.3,"y":27700},{"s":"Sn 3% - 900 sec - 20°","x":16.9,"y":27800},{"s":"Sn 3% - 900 sec - 20°","x":19.3,"y":27800},{"s":"Sn 3% - 900 sec - 20°","x":21.4,"y":27900},{"s":"Sn 3% - 900 sec - 20°","x":22.8,"y":27900},{"s":"Sn 3% - 900 sec - 20°","x":22.83,"y":18300},{"s":"Sn 3% - 900 sec - 20°","x":21.9,"y":12730},{"s":"Sn 3% - 900 sec - 20°","x":21.1,"y":8000},{"s":"Sn 3% - 900 sec - 20°","x":20.25,"y":3670},{"s":"Sn 3% - 900 sec - 20°","x":19.47,"y":260},
{"s":"Sn 3% - 900 sec - 10°","x":0.25,"y":0},{"s":"Sn 3% - 900 sec - 10°","x":0.5,"y":1400},{"s":"Sn 3% - 900 sec - 10°","x":0.75,"y":3000},{"s":"Sn 3% - 900 sec - 10°","x":1.0,"y":4700},{"s":"Sn 3% - 900 sec - 10°","x":1.25,"y":6400},{"s":"Sn 3% - 900 sec - 10°","x":1.5,"y":8100},{"s":"Sn 3% - 900 sec - 10°","x":1.75,"y":9800},{"s":"Sn 3% - 900 sec - 10°","x":2.0,"y":11500},{"s":"Sn 3% - 900 sec - 10°","x":2.25,"y":13200},{"s":"Sn 3% - 900 sec - 10°","x":2.5,"y":14900},{"s":"Sn 3% - 900 sec - 10°","x":2.75,"y":16600},{"s":"Sn 3% - 900 sec - 10°","x":3.0,"y":18300},{"s":"Sn 3% - 900 sec - 10°","x":3.25,"y":20000},{"s":"Sn 3% - 900 sec - 10°","x":3.5,"y":21600},{"s":"Sn 3% - 900 sec - 10°","x":3.8,"y":23200},{"s":"Sn 3% - 900 sec - 10°","x":4.1,"y":24600},{"s":"Sn 3% - 900 sec - 10°","x":4.45,"y":25800},{"s":"Sn 3% - 900 sec - 10°","x":4.85,"y":26700},{"s":"Sn 3% - 900 sec - 10°","x":5.3,"y":27300},{"s":"Sn 3% - 900 sec - 10°","x":5.9,"y":27600},{"s":"Sn 3% - 900 sec - 10°","x":6.6,"y":27800},{"s":"Sn 3% - 900 sec - 10°","x":7.3,"y":27800},{"s":"Sn 3% - 900 sec - 10°","x":8.0,"y":27800},{"s":"Sn 3% - 900 sec - 10°","x":8.7,"y":27800},{"s":"Sn 3% - 900 sec - 10°","x":9.5,"y":27800},{"s":"Sn 3% - 900 sec - 10°","x":10.4,"y":27800},{"s":"Sn 3% - 900 sec - 10°","x":11.2,"y":27800},{"s":"Sn 3% - 900 sec - 10°","x":11.7,"y":27700},{"s":"Sn 3% - 900 sec - 10°","x":11.7,"y":19800},{"s":"Sn 3% - 900 sec - 10°","x":11.0,"y":14050},{"s":"Sn 3% - 900 sec - 10°","x":10.3,"y":9700},{"s":"Sn 3% - 900 sec - 10°","x":9.7,"y":4110},{"s":"Sn 3% - 900 sec - 10°","x":8.7,"y":220}
],
"b": [
{"s":"Cu 0.5% - 15 sec - 30°","x":0.3,"y":0},{"s":"Cu 0.5% - 15 sec - 30°","x":0.7,"y":800},{"s":"Cu 0.5% - 15 sec - 30°","x":1.1,"y":1600},{"s":"Cu 0.5% - 15 sec - 30°","x":1.5,"y":2400},{"s":"Cu 0.5% - 15 sec - 30°","x":1.9,"y":3200},{"s":"Cu 0.5% - 15 sec - 30°","x":2.3,"y":3900},{"s":"Cu 0.5% - 15 sec - 30°","x":2.7,"y":5000},{"s":"Cu 0.5% - 15 sec - 30°","x":3.1,"y":6200},{"s":"Cu 0.5% - 15 sec - 30°","x":3.5,"y":7500},{"s":"Cu 0.5% - 15 sec - 30°","x":3.9,"y":8900},{"s":"Cu 0.5% - 15 sec - 30°","x":4.3,"y":10300},{"s":"Cu 0.5% - 15 sec - 30°","x":4.7,"y":11700},{"s":"Cu 0.5% - 15 sec - 30°","x":5.1,"y":13100},{"s":"Cu 0.5% - 15 sec - 30°","x":5.5,"y":14400},{"s":"Cu 0.5% - 15 sec - 30°","x":5.9,"y":15500},{"s":"Cu 0.5% - 15 sec - 30°","x":6.3,"y":16700},{"s":"Cu 0.5% - 15 sec - 30°","x":6.75,"y":18200},{"s":"Cu 0.5% - 15 sec - 30°","x":7.5,"y":20900},{"s":"Cu 0.5% - 15 sec - 30°","x":8.3,"y":21800},{"s":"Cu 0.5% - 15 sec - 30°","x":9.5,"y":22100},{"s":"Cu 0.5% - 15 sec - 30°","x":11.0,"y":22200},{"s":"Cu 0.5% - 15 sec - 30°","x":12.5,"y":22200},{"s":"Cu 0.5% - 15 sec - 30°","x":14.95,"y":22200},{"s":"Cu 0.5% - 15 sec - 30°","x":16.8,"y":22100},{"s":"Cu 0.5% - 15 sec - 30°","x":18.5,"y":22100},{"s":"Cu 0.5% - 15 sec - 30°","x":21.2,"y":22100},{"s":"Cu 0.5% - 15 sec - 30°","x":23.5,"y":22000},{"s":"Cu 0.5% - 15 sec - 30°","x":25.7,"y":22000},{"s":"Cu 0.5% - 15 sec - 30°","x":27.7,"y":21900},{"s":"Cu 0.5% - 15 sec - 30°","x":29.8,"y":21900},{"s":"Cu 0.5% - 15 sec - 30°","x":31.9,"y":21900},{"s":"Cu 0.5% - 15 sec - 30°","x":33.8,"y":21900},{"s":"Cu 0.5% - 15 sec - 30°","x":35.8,"y":21800},{"s":"Cu 0.5% - 15 sec - 30°","x":36.4,"y":15790},{"s":"Cu 0.5% - 15 sec - 30°","x":35.6,"y":11000},{"s":"Cu 0.5% - 15 sec - 30°","x":34.9,"y":6550},{"s":"Cu 0.5% - 15 sec - 30°","x":34.0,"y":2790},{"s":"Cu 0.5% - 15 sec - 30°","x":33.3,"y":300},
{"s":"Cu 0.5% - 15 sec - 20°","x":0.25,"y":0},{"s":"Cu 0.5% - 15 sec - 20°","x":0.6,"y":1000},{"s":"Cu 0.5% - 15 sec - 20°","x":0.95,"y":2100},{"s":"Cu 0.5% - 15 sec - 20°","x":1.3,"y":3300},{"s":"Cu 0.5% - 15 sec - 20°","x":1.65,"y":4600},{"s":"Cu 0.5% - 15 sec - 20°","x":2.0,"y":6000},{"s":"Cu 0.5% - 15 sec - 20°","x":2.35,"y":7500},{"s":"Cu 0.5% - 15 sec - 20°","x":2.7,"y":9000},{"s":"Cu 0.5% - 15 sec - 20°","x":3.05,"y":10500},{"s":"Cu 0.5% - 15 sec - 20°","x":3.4,"y":12000},{"s":"Cu 0.5% - 15 sec - 20°","x":3.75,"y":13500},{"s":"Cu 0.5% - 15 sec - 20°","x":4.1,"y":15000},{"s":"Cu 0.5% - 15 sec - 20°","x":4.5,"y":16600},{"s":"Cu 0.5% - 15 sec - 20°","x":4.9,"y":18000},{"s":"Cu 0.5% - 15 sec - 20°","x":5.35,"y":19400},{"s":"Cu 0.5% - 15 sec - 20°","x":5.85,"y":20500},{"s":"Cu 0.5% - 15 sec - 20°","x":6.4,"y":21300},{"s":"Cu 0.5% - 15 sec - 20°","x":7.0,"y":21800},{"s":"Cu 0.5% - 15 sec - 20°","x":8.0,"y":22100},{"s":"Cu 0.5% - 15 sec - 20°","x":9.5,"y":22200},{"s":"Cu 0.5% - 15 sec - 20°","x":11.0,"y":22300},{"s":"Cu 0.5% - 15 sec - 20°","x":12.5,"y":22300},{"s":"Cu 0.5% - 15 sec - 20°","x":14.95,"y":22300},{"s":"Cu 0.5% - 15 sec - 20°","x":16.8,"y":22200},{"s":"Cu 0.5% - 15 sec - 20°","x":18.5,"y":22200},{"s":"Cu 0.5% - 15 sec - 20°","x":21.2,"y":22200},{"s":"Cu 0.5% - 15 sec - 20°","x":23.5,"y":22100},{"s":"Cu 0.5% - 15 sec - 20°","x":25.2,"y":22100},{"s":"Cu 0.5% - 15 sec - 20°","x":25.3,"y":13400},{"s":"Cu 0.5% - 15 sec - 20°","x":24.4,"y":8500},{"s":"Cu 0.5% - 15 sec - 20°","x":23.6,"y":4050},
{"s":"Cu 0.5% - 15 sec - 10°","x":0.2,"y":0},{"s":"Cu 0.5% - 15 sec - 10°","x":0.55,"y":1200},{"s":"Cu 0.5% - 15 sec - 10°","x":0.9,"y":2500},{"s":"Cu 0.5% - 15 sec - 10°","x":1.25,"y":3900},{"s":"Cu 0.5% - 15 sec - 10°","x":1.6,"y":5400},{"s":"Cu 0.5% - 15 sec - 10°","x":1.95,"y":7000},{"s":"Cu 0.5% - 15 sec - 10°","x":2.3,"y":8600},{"s":"Cu 0.5% - 15 sec - 10°","x":2.65,"y":10200},{"s":"Cu 0.5% - 15 sec - 10°","x":3.0,"y":11800},{"s":"Cu 0.5% - 15 sec - 10°","x":3.35,"y":13400},{"s":"Cu 0.5% - 15 sec - 10°","x":3.7,"y":15000},{"s":"Cu 0.5% - 15 sec - 10°","x":4.1,"y":16600},{"s":"Cu 0.5% - 15 sec - 10°","x":4.5,"y":18100},{"s":"Cu 0.5% - 15 sec - 10°","x":4.95,"y":19500},{"s":"Cu 0.5% - 15 sec - 10°","x":5.45,"y":20600},{"s":"Cu 0.5% - 15 sec - 10°","x":6.0,"y":21400},{"s":"Cu 0.5% - 15 sec - 10°","x":6.6,"y":21900},{"s":"Cu 0.5% - 15 sec - 10°","x":7.4,"y":22200},{"s":"Cu 0.5% - 15 sec - 10°","x":8.2,"y":22300},{"s":"Cu 0.5% - 15 sec - 10°","x":9.0,"y":22400},{"s":"Cu 0.5% - 15 sec - 10°","x":9.8,"y":22400},{"s":"Cu 0.5% - 15 sec - 10°","x":10.6,"y":22400},{"s":"Cu 0.5% - 15 sec - 10°","x":11.4,"y":22300},{"s":"Cu 0.5% - 15 sec - 10°","x":12.2,"y":22300},{"s":"Cu 0.5% - 15 sec - 10°","x":12.6,"y":22300},{"s":"Cu 0.5% - 15 sec - 10°","x":12.6,"y":15300},{"s":"Cu 0.5% - 15 sec - 10°","x":11.3,"y":8510},{"s":"Cu 0.5% - 15 sec - 10°","x":10.3,"y":4560},{"s":"Cu 0.5% - 15 sec - 10°","x":9.3,"y":1920},{"s":"Cu 0.5% - 15 sec - 10°","x":8.25,"y":226},
{"s":"Cu 0.5% - 60 sec - 30°","x":0.2,"y":0},{"s":"Cu 0.5% - 60 sec - 30°","x":0.6,"y":800},{"s":"Cu 0.5% - 60 sec - 30°","x":1.0,"y":1800},{"s":"Cu 0.5% - 60 sec - 30°","x":1.4,"y":3000},{"s":"Cu 0.5% - 60 sec - 30°","x":1.8,"y":4500},{"s":"Cu 0.5% - 60 sec - 30°","x":2.2,"y":6800},{"s":"Cu 0.5% - 60 sec - 30°","x":2.6,"y":9300},{"s":"Cu 0.5% - 60 sec - 30°","x":3.0,"y":11300},{"s":"Cu 0.5% - 60 sec - 30°","x":3.4,"y":13300},{"s":"Cu 0.5% - 60 sec - 30°","x":3.8,"y":15200},{"s":"Cu 0.5% - 60 sec - 30°","x":4.2,"y":17000},{"s":"Cu 0.5% - 60 sec - 30°","x":4.6,"y":18400},{"s":"Cu 0.5% - 60 sec - 30°","x":5.0,"y":19500},{"s":"Cu 0.5% - 60 sec - 30°","x":5.5,"y":20400},{"s":"Cu 0.5% - 60 sec - 30°","x":6.0,"y":21100},{"s":"Cu 0.5% - 60 sec - 30°","x":6.5,"y":21700},{"s":"Cu 0.5% - 60 sec - 30°","x":7.0,"y":22100},{"s":"Cu 0.5% - 60 sec - 30°","x":7.6,"y":22400},{"s":"Cu 0.5% - 60 sec - 30°","x":8.5,"y":22500},{"s":"Cu 0.5% - 60 sec - 30°","x":10.0,"y":22500},{"s":"Cu 0.5% - 60 sec - 30°","x":11.5,"y":22500},{"s":"Cu 0.5% - 60 sec - 30°","x":14.9,"y":22450},{"s":"Cu 0.5% - 60 sec - 30°","x":16.8,"y":22400},{"s":"Cu 0.5% - 60 sec - 30°","x":18.5,"y":22500},{"s":"Cu 0.5% - 60 sec - 30°","x":21.2,"y":22500},{"s":"Cu 0.5% - 60 sec - 30°","x":23.5,"y":22600},{"s":"Cu 0.5% - 60 sec - 30°","x":25.7,"y":22700},{"s":"Cu 0.5% - 60 sec - 30°","x":27.7,"y":22700},{"s":"Cu 0.5% - 60 sec - 30°","x":29.8,"y":22700},{"s":"Cu 0.5% - 60 sec - 30°","x":31.9,"y":22800},{"s":"Cu 0.5% - 60 sec - 30°","x":33.8,"y":22800},{"s":"Cu 0.5% - 60 sec - 30°","x":35.8,"y":22860},{"s":"Cu 0.5% - 60 sec - 30°","x":36.1,"y":16420},{"s":"Cu 0.5% - 60 sec - 30°","x":35.2,"y":11340},{"s":"Cu 0.5% - 60 sec - 30°","x":34.4,"y":7760},{"s":"Cu 0.5% - 60 sec - 30°","x":33.55,"y":4100},{"s":"Cu 0.5% - 60 sec - 30°","x":32.8,"y":1470},{"s":"Cu 0.5% - 60 sec - 30°","x":32.4,"y":150},
{"s":"Cu 0.5% - 60 sec - 20°","x":0.1,"y":0},{"s":"Cu 0.5% - 60 sec - 20°","x":0.45,"y":1000},{"s":"Cu 0.5% - 60 sec - 20°","x":0.8,"y":2200},{"s":"Cu 0.5% - 60 sec - 20°","x":1.15,"y":3600},{"s":"Cu 0.5% - 60 sec - 20°","x":1.5,"y":5200},{"s":"Cu 0.5% - 60 sec - 20°","x":1.85,"y":7000},{"s":"Cu 0.5% - 60 sec - 20°","x":2.2,"y":8900},{"s":"Cu 0.5% - 60 sec - 20°","x":2.55,"y":10800},{"s":"Cu 0.5% - 60 sec - 20°","x":2.9,"y":12600},{"s":"Cu 0.5% - 60 sec - 20°","x":3.25,"y":14300},{"s":"Cu 0.5% - 60 sec - 20°","x":3.6,"y":15900},{"s":"Cu 0.5% - 60 sec - 20°","x":4.0,"y":17400},{"s":"Cu 0.5% - 60 sec - 20°","x":4.4,"y":18700},{"s":"Cu 0.5% - 60 sec - 20°","x":4.85,"y":19800},{"s":"Cu 0.5% - 60 sec - 20°","x":5.35,"y":20700},{"s":"Cu 0.5% - 60 sec - 20°","x":5.9,"y":21400},{"s":"Cu 0.5% - 60 sec - 20°","x":6.5,"y":21900},{"s":"Cu 0.5% - 60 sec - 20°","x":7.3,"y":22200},{"s":"Cu 0.5% - 60 sec - 20°","x":8.3,"y":22300},{"s":"Cu 0.5% - 60 sec - 20°","x":9.5,"y":22300},{"s":"Cu 0.5% - 60 sec - 20°","x":11.0,"y":22300},{"s":"Cu 0.5% - 60 sec - 20°","x":12.5,"y":22300},{"s":"Cu 0.5% - 60 sec - 20°","x":14.95,"y":22000},{"s":"Cu 0.5% - 60 sec - 20°","x":16.8,"y":21900},{"s":"Cu 0.5% - 60 sec - 20°","x":18.5,"y":22000},{"s":"Cu 0.5% - 60 sec - 20°","x":21.2,"y":22200},{"s":"Cu 0.5% - 60 sec - 20°","x":23.2,"y":22200},{"s":"Cu 0.5% - 60 sec - 20°","x":24.5,"y":22300},{"s":"Cu 0.5% - 60 sec - 20°","x":24.86,"y":14010},{"s":"Cu 0.5% - 60 sec - 20°","x":23.8,"y":9380},{"s":"Cu 0.5% - 60 sec - 20°","x":23.05,"y":5420},{"s":"Cu 0.5% - 60 sec - 20°","x":22.2,"y":1840},
{"s":"Cu 0.5% - 60 sec - 10°","x":0.0,"y":0},{"s":"Cu 0.5% - 60 sec - 10°","x":0.35,"y":900},{"s":"Cu 0.5% - 60 sec - 10°","x":0.7,"y":2000},{"s":"Cu 0.5% - 60 sec - 10°","x":1.05,"y":3300},{"s":"Cu 0.5% - 60 sec - 10°","x":1.4,"y":4800},{"s":"Cu 0.5% - 60 sec - 10°","x":1.75,"y":6500},{"s":"Cu 0.5% - 60 sec - 10°","x":2.1,"y":8300},{"s":"Cu 0.5% - 60 sec - 10°","x":2.45,"y":10100},{"s":"Cu 0.5% - 60 sec - 10°","x":2.8,"y":11900},{"s":"Cu 0.5% - 60 sec - 10°","x":3.15,"y":13600},{"s":"Cu 0.5% - 60 sec - 10°","x":3.5,"y":15200},{"s":"Cu 0.5% - 60 sec - 10°","x":3.9,"y":16800},{"s":"Cu 0.5% - 60 sec - 10°","x":4.3,"y":18200},{"s":"Cu 0.5% - 60 sec - 10°","x":4.75,"y":19400},{"s":"Cu 0.5% - 60 sec - 10°","x":5.25,"y":20400},{"s":"Cu 0.5% - 60 sec - 10°","x":5.8,"y":21200},{"s":"Cu 0.5% - 60 sec - 10°","x":6.4,"y":21800},{"s":"Cu 0.5% - 60 sec - 10°","x":7.2,"y":22100},{"s":"Cu 0.5% - 60 sec - 10°","x":8.0,"y":22300},{"s":"Cu 0.5% - 60 sec - 10°","x":8.8,"y":22400},{"s":"Cu 0.5% - 60 sec - 10°","x":9.6,"y":22400},{"s":"Cu 0.5% - 60 sec - 10°","x":10.4,"y":22400},{"s":"Cu 0.5% - 60 sec - 10°","x":11.2,"y":22400},{"s":"Cu 0.5% - 60 sec - 10°","x":12.0,"y":22400},{"s":"Cu 0.5% - 60 sec - 10°","x":12.8,"y":22400},{"s":"Cu 0.5% - 60 sec - 10°","x":13.0,"y":15300},{"s":"Cu 0.5% - 60 sec - 10°","x":12.25,"y":10770},{"s":"Cu 0.5% - 60 sec - 10°","x":11.6,"y":7310},{"s":"Cu 0.5% - 60 sec - 10°","x":10.5,"y":2600},
{"s":"Cu 0.5% - 180 sec - 30°","x":0.3,"y":0},{"s":"Cu 0.5% - 180 sec - 30°","x":0.8,"y":1000},{"s":"Cu 0.5% - 180 sec - 30°","x":1.3,"y":2200},{"s":"Cu 0.5% - 180 sec - 30°","x":1.8,"y":3600},{"s":"Cu 0.5% - 180 sec - 30°","x":2.2,"y":4800},{"s":"Cu 0.5% - 180 sec - 30°","x":2.65,"y":5800},{"s":"Cu 0.5% - 180 sec - 30°","x":3.1,"y":8200},{"s":"Cu 0.5% - 180 sec - 30°","x":3.6,"y":10700},{"s":"Cu 0.5% - 180 sec - 30°","x":4.0,"y":12400},{"s":"Cu 0.5% - 180 sec - 30°","x":4.4,"y":13900},{"s":"Cu 0.5% - 180 sec - 30°","x":4.8,"y":15200},{"s":"Cu 0.5% - 180 sec - 30°","x":5.3,"y":16800},{"s":"Cu 0.5% - 180 sec - 30°","x":5.7,"y":17900},{"s":"Cu 0.5% - 180 sec - 30°","x":6.1,"y":18980},{"s":"Cu 0.5% - 180 sec - 30°","x":6.55,"y":20200},{"s":"Cu 0.5% - 180 sec - 30°","x":7.0,"y":21240},{"s":"Cu 0.5% - 180 sec - 30°","x":7.6,"y":22000},{"s":"Cu 0.5% - 180 sec - 30°","x":8.2,"y":22700},{"s":"Cu 0.5% - 180 sec - 30°","x":9.0,"y":23000},{"s":"Cu 0.5% - 180 sec - 30°","x":10.5,"y":23200},{"s":"Cu 0.5% - 180 sec - 30°","x":12.0,"y":23300},{"s":"Cu 0.5% - 180 sec - 30°","x":14.95,"y":23300},{"s":"Cu 0.5% - 180 sec - 30°","x":16.8,"y":23300},{"s":"Cu 0.5% - 180 sec - 30°","x":18.5,"y":23300},{"s":"Cu 0.5% - 180 sec - 30°","x":21.2,"y":23300},{"s":"Cu 0.5% - 180 sec - 30°","x":23.5,"y":23300},{"s":"Cu 0.5% - 180 sec - 30°","x":25.7,"y":23400},{"s":"Cu 0.5% - 180 sec - 30°","x":27.7,"y":23400},{"s":"Cu 0.5% - 180 sec - 30°","x":29.8,"y":23400},{"s":"Cu 0.5% - 180 sec - 30°","x":31.9,"y":23400},{"s":"Cu 0.5% - 180 sec - 30°","x":33.8,"y":23400},{"s":"Cu 0.5% - 180 sec - 30°","x":35.8,"y":23500},{"s":"Cu 0.5% - 180 sec - 30°","x":36.3,"y":17480},{"s":"Cu 0.5% - 180 sec - 30°","x":35.45,"y":12580},{"s":"Cu 0.5% - 180 sec - 30°","x":34.4,"y":7870},{"s":"Cu 0.5% - 180 sec - 30°","x":33.6,"y":3900},{"s":"Cu 0.5% - 180 sec - 30°","x":32.9,"y":720},
{"s":"Cu 0.5% - 180 sec - 20°","x":0.2,"y":0},{"s":"Cu 0.5% - 180 sec - 20°","x":0.55,"y":1100},{"s":"Cu 0.5% - 180 sec - 20°","x":0.9,"y":2500},{"s":"Cu 0.5% - 180 sec - 20°","x":1.25,"y":4100},{"s":"Cu 0.5% - 180 sec - 20°","x":1.6,"y":5900},{"s":"Cu 0.5% - 180 sec - 20°","x":1.95,"y":7800},{"s":"Cu 0.5% - 180 sec - 20°","x":2.3,"y":9700},{"s":"Cu 0.5% - 180 sec - 20°","x":2.65,"y":11600},{"s":"Cu 0.5% - 180 sec - 20°","x":3.0,"y":13400},{"s":"Cu 0.5% - 180 sec - 20°","x":3.35,"y":15100},{"s":"Cu 0.5% - 180 sec - 20°","x":3.7,"y":16700},{"s":"Cu 0.5% - 180 sec - 20°","x":4.1,"y":18200},{"s":"Cu 0.5% - 180 sec - 20°","x":4.5,"y":19500},{"s":"Cu 0.5% - 180 sec - 20°","x":4.95,"y":20600},{"s":"Cu 0.5% - 180 sec - 20°","x":5.45,"y":21500},{"s":"Cu 0.5% - 180 sec - 20°","x":6.0,"y":22200},{"s":"Cu 0.5% - 180 sec - 20°","x":6.6,"y":22700},{"s":"Cu 0.5% - 180 sec - 20°","x":7.4,"y":23000},{"s":"Cu 0.5% - 180 sec - 20°","x":8.4,"y":23200},{"s":"Cu 0.5% - 180 sec - 20°","x":9.6,"y":23300},{"s":"Cu 0.5% - 180 sec - 20°","x":11.0,"y":23300},{"s":"Cu 0.5% - 180 sec - 20°","x":12.5,"y":23300},{"s":"Cu 0.5% - 180 sec - 20°","x":14.95,"y":23300},{"s":"Cu 0.5% - 180 sec - 20°","x":16.8,"y":23300},{"s":"Cu 0.5% - 180 sec - 20°","x":18.5,"y":23400},{"s":"Cu 0.5% - 180 sec - 20°","x":21.2,"y":23400},{"s":"Cu 0.5% - 180 sec - 20°","x":23.5,"y":23400},{"s":"Cu 0.5% - 180 sec - 20°","x":25.2,"y":23400},{"s":"Cu 0.5% - 180 sec - 20°","x":25.3,"y":13800},{"s":"Cu 0.5% - 180 sec - 20°","x":23.9,"y":9000},{"s":"Cu 0.5% - 180 sec - 20°","x":23.3,"y":5100},{"s":"Cu 0.5% - 180 sec - 20°","x":22.4,"y":2030},
{"s":"Cu 0.5% - 180 sec - 10°","x":0.1,"y":0},{"s":"Cu 0.5% - 180 sec - 10°","x":0.45,"y":1200},{"s":"Cu 0.5% - 180 sec - 10°","x":0.8,"y":2700},{"s":"Cu 0.5% - 180 sec - 10°","x":1.15,"y":4400},{"s":"Cu 0.5% - 180 sec - 10°","x":1.5,"y":6200},{"s":"Cu 0.5% - 180 sec - 10°","x":1.85,"y":8100},{"s":"Cu 0.5% - 180 sec - 10°","x":2.2,"y":10000},{"s":"Cu 0.5% - 180 sec - 10°","x":2.55,"y":11900},{"s":"Cu 0.5% - 180 sec - 10°","x":2.9,"y":13700},{"s":"Cu 0.5% - 180 sec - 10°","x":3.25,"y":15400},{"s":"Cu 0.5% - 180 sec - 10°","x":3.6,"y":17000},{"s":"Cu 0.5% - 180 sec - 10°","x":4.0,"y":18500},{"s":"Cu 0.5% - 180 sec - 10°","x":4.4,"y":19800},{"s":"Cu 0.5% - 180 sec - 10°","x":4.85,"y":20900},{"s":"Cu 0.5% - 180 sec - 10°","x":5.35,"y":21800},{"s":"Cu 0.5% - 180 sec - 10°","x":5.9,"y":22500},{"s":"Cu 0.5% - 180 sec - 10°","x":6.5,"y":22900},{"s":"Cu 0.5% - 180 sec - 10°","x":7.2,"y":23100},{"s":"Cu 0.5% - 180 sec - 10°","x":8.0,"y":23200},{"s":"Cu 0.5% - 180 sec - 10°","x":8.8,"y":23300},{"s":"Cu 0.5% - 180 sec - 10°","x":9.6,"y":23300},{"s":"Cu 0.5% - 180 sec - 10°","x":10.4,"y":23300},{"s":"Cu 0.5% - 180 sec - 10°","x":11.2,"y":23300},{"s":"Cu 0.5% - 180 sec - 10°","x":12.0,"y":23300},{"s":"Cu 0.5% - 180 sec - 10°","x":12.6,"y":23300},{"s":"Cu 0.5% - 180 sec - 10°","x":12.6,"y":14540},{"s":"Cu 0.5% - 180 sec - 10°","x":12.1,"y":10700},{"s":"Cu 0.5% - 180 sec - 10°","x":11.3,"y":7130},{"s":"Cu 0.5% - 180 sec - 10°","x":10.2,"y":2860},
{"s":"Cu 0.5% - 360 sec - 30°","x":0.25,"y":0},{"s":"Cu 0.5% - 360 sec - 30°","x":0.55,"y":1300},{"s":"Cu 0.5% - 360 sec - 30°","x":0.85,"y":2900},{"s":"Cu 0.5% - 360 sec - 30°","x":1.15,"y":4700},{"s":"Cu 0.5% - 360 sec - 30°","x":1.45,"y":6600},{"s":"Cu 0.5% - 360 sec - 30°","x":1.75,"y":8600},{"s":"Cu 0.5% - 360 sec - 30°","x":2.05,"y":10600},{"s":"Cu 0.5% - 360 sec - 30°","x":2.35,"y":12500},{"s":"Cu 0.5% - 360 sec - 30°","x":2.65,"y":14300},{"s":"Cu 0.5% - 360 sec - 30°","x":2.95,"y":16000},{"s":"Cu 0.5% - 360 sec - 30°","x":3.25,"y":17600},{"s":"Cu 0.5% - 360 sec - 30°","x":3.6,"y":19100},{"s":"Cu 0.5% - 360 sec - 30°","x":3.95,"y":20400},{"s":"Cu 0.5% - 360 sec - 30°","x":4.35,"y":21500},{"s":"Cu 0.5% - 360 sec - 30°","x":4.8,"y":22400},{"s":"Cu 0.5% - 360 sec - 30°","x":5.3,"y":23000},{"s":"Cu 0.5% - 360 sec - 30°","x":5.9,"y":23500},{"s":"Cu 0.5% - 360 sec - 30°","x":6.5,"y":23800},{"s":"Cu 0.5% - 360 sec - 30°","x":7.5,"y":23900},{"s":"Cu 0.5% - 360 sec - 30°","x":9.0,"y":24000},{"s":"Cu 0.5% - 360 sec - 30°","x":10.5,"y":24000},{"s":"Cu 0.5% - 360 sec - 30°","x":12.0,"y":24000},{"s":"Cu 0.5% - 360 sec - 30°","x":14.95,"y":23800},{"s":"Cu 0.5% - 360 sec - 30°","x":16.8,"y":23800},{"s":"Cu 0.5% - 360 sec - 30°","x":18.5,"y":23800},{"s":"Cu 0.5% - 360 sec - 30°","x":21.2,"y":23900},{"s":"Cu 0.5% - 360 sec - 30°","x":23.5,"y":23900},{"s":"Cu 0.5% - 360 sec - 30°","x":25.7,"y":23800},{"s":"Cu 0.5% - 360 sec - 30°","x":27.7,"y":23800},{"s":"Cu 0.5% - 360 sec - 30°","x":29.8,"y":23700},{"s":"Cu 0.5% - 360 sec - 30°","x":31.9,"y":23700},{"s":"Cu 0.5% - 360 sec - 30°","x":33.8,"y":23700},{"s":"Cu 0.5% - 360 sec - 30°","x":35.8,"y":23600},{"s":"Cu 0.5% - 360 sec - 30°","x":36.5,"y":16240},{"s":"Cu 0.5% - 360 sec - 30°","x":35.5,"y":11000},{"s":"Cu 0.5% - 360 sec - 30°","x":34.7,"y":6740},{"s":"Cu 0.5% - 360 sec - 30°","x":33.9,"y":2860},{"s":"Cu 0.5% - 360 sec - 30°","x":33.3,"y":150},
{"s":"Cu 0.5% - 360 sec - 20°","x":0.35,"y":0},{"s":"Cu 0.5% - 360 sec - 20°","x":0.65,"y":1400},{"s":"Cu 0.5% - 360 sec - 20°","x":0.95,"y":3000},{"s":"Cu 0.5% - 360 sec - 20°","x":1.25,"y":4800},{"s":"Cu 0.5% - 360 sec - 20°","x":1.55,"y":6700},{"s":"Cu 0.5% - 360 sec - 20°","x":1.85,"y":8700},{"s":"Cu 0.5% - 360 sec - 20°","x":2.15,"y":10700},{"s":"Cu 0.5% - 360 sec - 20°","x":2.45,"y":12600},{"s":"Cu 0.5% - 360 sec - 20°","x":2.75,"y":14400},{"s":"Cu 0.5% - 360 sec - 20°","x":3.05,"y":16100},{"s":"Cu 0.5% - 360 sec - 20°","x":3.35,"y":17700},{"s":"Cu 0.5% - 360 sec - 20°","x":3.7,"y":19200},{"s":"Cu 0.5% - 360 sec - 20°","x":4.05,"y":20500},{"s":"Cu 0.5% - 360 sec - 20°","x":4.45,"y":21600},{"s":"Cu 0.5% - 360 sec - 20°","x":4.9,"y":22500},{"s":"Cu 0.5% - 360 sec - 20°","x":5.4,"y":23100},{"s":"Cu 0.5% - 360 sec - 20°","x":6.0,"y":23600},{"s":"Cu 0.5% - 360 sec - 20°","x":7.0,"y":23900},{"s":"Cu 0.5% - 360 sec - 20°","x":8.2,"y":24000},{"s":"Cu 0.5% - 360 sec - 20°","x":9.5,"y":24100},{"s":"Cu 0.5% - 360 sec - 20°","x":11.0,"y":24100},{"s":"Cu 0.5% - 360 sec - 20°","x":12.5,"y":24100},{"s":"Cu 0.5% - 360 sec - 20°","x":14.95,"y":24000},{"s":"Cu 0.5% - 360 sec - 20°","x":16.8,"y":24000},{"s":"Cu 0.5% - 360 sec - 20°","x":18.5,"y":24100},{"s":"Cu 0.5% - 360 sec - 20°","x":21.2,"y":24100},{"s":"Cu 0.5% - 360 sec - 20°","x":23.5,"y":24200},{"s":"Cu 0.5% - 360 sec - 20°","x":25.2,"y":24200},{"s":"Cu 0.5% - 360 sec - 20°","x":25.3,"y":14950},{"s":"Cu 0.5% - 360 sec - 20°","x":24.2,"y":9380},{"s":"Cu 0.5% - 360 sec - 20°","x":23.3,"y":4800},
{"s":"Cu 0.5% - 360 sec - 10°","x":0.15,"y":0},{"s":"Cu 0.5% - 360 sec - 10°","x":0.45,"y":1500},{"s":"Cu 0.5% - 360 sec - 10°","x":0.75,"y":3200},{"s":"Cu 0.5% - 360 sec - 10°","x":1.05,"y":5000},{"s":"Cu 0.5% - 360 sec - 10°","x":1.35,"y":6900},{"s":"Cu 0.5% - 360 sec - 10°","x":1.65,"y":8900},{"s":"Cu 0.5% - 360 sec - 10°","x":1.95,"y":10900},{"s":"Cu 0.5% - 360 sec - 10°","x":2.25,"y":12800},{"s":"Cu 0.5% - 360 sec - 10°","x":2.55,"y":14600},{"s":"Cu 0.5% - 360 sec - 10°","x":2.85,"y":16300},{"s":"Cu 0.5% - 360 sec - 10°","x":3.15,"y":17900},{"s":"Cu 0.5% - 360 sec - 10°","x":3.5,"y":19400},{"s":"Cu 0.5% - 360 sec - 10°","x":3.85,"y":20700},{"s":"Cu 0.5% - 360 sec - 10°","x":4.25,"y":21800},{"s":"Cu 0.5% - 360 sec - 10°","x":4.7,"y":22700},{"s":"Cu 0.5% - 360 sec - 10°","x":5.2,"y":23300},{"s":"Cu 0.5% - 360 sec - 10°","x":5.8,"y":23700},{"s":"Cu 0.5% - 360 sec - 10°","x":6.6,"y":23900},{"s":"Cu 0.5% - 360 sec - 10°","x":7.4,"y":24000},{"s":"Cu 0.5% - 360 sec - 10°","x":8.2,"y":24100},{"s":"Cu 0.5% - 360 sec - 10°","x":9.0,"y":24100},{"s":"Cu 0.5% - 360 sec - 10°","x":9.8,"y":24100},{"s":"Cu 0.5% - 360 sec - 10°","x":10.6,"y":24100},{"s":"Cu 0.5% - 360 sec - 10°","x":11.4,"y":24100},{"s":"Cu 0.5% - 360 sec - 10°","x":12.2,"y":24000},{"s":"Cu 0.5% - 360 sec - 10°","x":12.9,"y":24000},{"s":"Cu 0.5% - 360 sec - 10°","x":12.9,"y":15900},{"s":"Cu 0.5% - 360 sec - 10°","x":11.6,"y":8300},{"s":"Cu 0.5% - 360 sec - 10°","x":10.6,"y":3430},
{"s":"Cu 0.5% - 900 sec - 30°","x":0.3,"y":0},{"s":"Cu 0.5% - 900 sec - 30°","x":0.55,"y":1500},{"s":"Cu 0.5% - 900 sec - 30°","x":0.8,"y":3400},{"s":"Cu 0.5% - 900 sec - 30°","x":1.05,"y":5500},{"s":"Cu 0.5% - 900 sec - 30°","x":1.3,"y":7700},{"s":"Cu 0.5% - 900 sec - 30°","x":1.55,"y":9900},{"s":"Cu 0.5% - 900 sec - 30°","x":1.8,"y":12000},{"s":"Cu 0.5% - 900 sec - 30°","x":2.05,"y":13900},{"s":"Cu 0.5% - 900 sec - 30°","x":2.3,"y":15700},{"s":"Cu 0.5% - 900 sec - 30°","x":2.55,"y":17300},{"s":"Cu 0.5% - 900 sec - 30°","x":2.8,"y":18800},{"s":"Cu 0.5% - 900 sec - 30°","x":3.1,"y":20200},{"s":"Cu 0.5% - 900 sec - 30°","x":3.4,"y":21400},{"s":"Cu 0.5% - 900 sec - 30°","x":3.7,"y":22400},{"s":"Cu 0.5% - 900 sec - 30°","x":4.0,"y":23100},{"s":"Cu 0.5% - 900 sec - 30°","x":4.4,"y":23700},{"s":"Cu 0.5% - 900 sec - 30°","x":4.8,"y":24200},{"s":"Cu 0.5% - 900 sec - 30°","x":5.3,"y":24600},{"s":"Cu 0.5% - 900 sec - 30°","x":5.8,"y":24900},{"s":"Cu 0.5% - 900 sec - 30°","x":6.3,"y":25100},{"s":"Cu 0.5% - 900 sec - 30°","x":6.9,"y":25200},{"s":"Cu 0.5% - 900 sec - 30°","x":8.0,"y":25200},{"s":"Cu 0.5% - 900 sec - 30°","x":9.5,"y":25200},{"s":"Cu 0.5% - 900 sec - 30°","x":11.0,"y":25100},{"s":"Cu 0.5% - 900 sec - 30°","x":12.5,"y":25100},{"s":"Cu 0.5% - 900 sec - 30°","x":14.95,"y":24260},{"s":"Cu 0.5% - 900 sec - 30°","x":16.8,"y":24330},{"s":"Cu 0.5% - 900 sec - 30°","x":18.5,"y":24450},{"s":"Cu 0.5% - 900 sec - 30°","x":21.2,"y":24700},{"s":"Cu 0.5% - 900 sec - 30°","x":23.5,"y":24500},{"s":"Cu 0.5% - 900 sec - 30°","x":25.7,"y":24300},{"s":"Cu 0.5% - 900 sec - 30°","x":27.7,"y":24070},{"s":"Cu 0.5% - 900 sec - 30°","x":29.8,"y":24070},{"s":"Cu 0.5% - 900 sec - 30°","x":31.9,"y":24070},{"s":"Cu 0.5% - 900 sec - 30°","x":33.8,"y":24070},{"s":"Cu 0.5% - 900 sec - 30°","x":35.8,"y":24260},{"s":"Cu 0.5% - 900 sec - 30°","x":36.3,"y":17850},{"s":"Cu 0.5% - 900 sec - 30°","x":35.3,"y":11260},{"s":"Cu 0.5% - 900 sec - 30°","x":34.5,"y":6180},{"s":"Cu 0.5% - 900 sec - 30°","x":33.8,"y":1730},{"s":"Cu 0.5% - 900 sec - 30°","x":33.5,"y":0},
{"s":"Cu 0.5% - 900 sec - 20°","x":0.4,"y":0},{"s":"Cu 0.5% - 900 sec - 20°","x":0.65,"y":1700},{"s":"Cu 0.5% - 900 sec - 20°","x":0.9,"y":3700},{"s":"Cu 0.5% - 900 sec - 20°","x":1.15,"y":5800},{"s":"Cu 0.5% - 900 sec - 20°","x":1.4,"y":8000},{"s":"Cu 0.5% - 900 sec - 20°","x":1.65,"y":10100},{"s":"Cu 0.5% - 900 sec - 20°","x":1.9,"y":12100},{"s":"Cu 0.5% - 900 sec - 20°","x":2.15,"y":14000},{"s":"Cu 0.5% - 900 sec - 20°","x":2.4,"y":15700},{"s":"Cu 0.5% - 900 sec - 20°","x":2.65,"y":17300},{"s":"Cu 0.5% - 900 sec - 20°","x":2.95,"y":18800},{"s":"Cu 0.5% - 900 sec - 20°","x":3.25,"y":20100},{"s":"Cu 0.5% - 900 sec - 20°","x":3.55,"y":21300},{"s":"Cu 0.5% - 900 sec - 20°","x":3.9,"y":22300},{"s":"Cu 0.5% - 900 sec - 20°","x":4.3,"y":23200},{"s":"Cu 0.5% - 900 sec - 20°","x":4.75,"y":23900},{"s":"Cu 0.5% - 900 sec - 20°","x":5.25,"y":24400},{"s":"Cu 0.5% - 900 sec - 20°","x":5.8,"y":24800},{"s":"Cu 0.5% - 900 sec - 20°","x":6.6,"y":25000},{"s":"Cu 0.5% - 900 sec - 20°","x":7.6,"y":25100},{"s":"Cu 0.5% - 900 sec - 20°","x":8.8,"y":25100},{"s":"Cu 0.5% - 900 sec - 20°","x":10.0,"y":25100},{"s":"Cu 0.5% - 900 sec - 20°","x":11.5,"y":25100},{"s":"Cu 0.5% - 900 sec - 20°","x":12.8,"y":25000},{"s":"Cu 0.5% - 900 sec - 20°","x":14.95,"y":24800},{"s":"Cu 0.5% - 900 sec - 20°","x":16.8,"y":24900},{"s":"Cu 0.5% - 900 sec - 20°","x":18.5,"y":25000},{"s":"Cu 0.5% - 900 sec - 20°","x":21.0,"y":25000},{"s":"Cu 0.5% - 900 sec - 20°","x":23.2,"y":25200},{"s":"Cu 0.5% - 900 sec - 20°","x":25.4,"y":25400},{"s":"Cu 0.5% - 900 sec - 20°","x":24.6,"y":15030},{"s":"Cu 0.5% - 900 sec - 20°","x":23.8,"y":9380},{"s":"Cu 0.5% - 900 sec - 20°","x":22.95,"y":4560},
{"s":"Cu 0.5% - 900 sec - 10°","x":0.2,"y":0},{"s":"Cu 0.5% - 900 sec - 10°","x":0.45,"y":1600},{"s":"Cu 0.5% - 900 sec - 10°","x":0.7,"y":3500},{"s":"Cu 0.5% - 900 sec - 10°","x":0.95,"y":5600},{"s":"Cu 0.5% - 900 sec - 10°","x":1.2,"y":7800},{"s":"Cu 0.5% - 900 sec - 10°","x":1.45,"y":10000},{"s":"Cu 0.5% - 900 sec - 10°","x":1.7,"y":11830},{"s":"Cu 0.5% - 900 sec - 10°","x":1.95,"y":13600},{"s":"Cu 0.5% - 900 sec - 10°","x":2.2,"y":15200},{"s":"Cu 0.5% - 900 sec - 10°","x":2.5,"y":17100},{"s":"Cu 0.5% - 900 sec - 10°","x":2.8,"y":18600},{"s":"Cu 0.5% - 900 sec - 10°","x":3.1,"y":19900},{"s":"Cu 0.5% - 900 sec - 10°","x":3.45,"y":21100},{"s":"Cu 0.5% - 900 sec - 10°","x":3.85,"y":22200},{"s":"Cu 0.5% - 900 sec - 10°","x":4.3,"y":23100},{"s":"Cu 0.5% - 900 sec - 10°","x":4.8,"y":23900},{"s":"Cu 0.5% - 900 sec - 10°","x":5.35,"y":24500},{"s":"Cu 0.5% - 900 sec - 10°","x":5.9,"y":24900},{"s":"Cu 0.5% - 900 sec - 10°","x":6.5,"y":25000},{"s":"Cu 0.5% - 900 sec - 10°","x":7.2,"y":25100},{"s":"Cu 0.5% - 900 sec - 10°","x":7.9,"y":25200},{"s":"Cu 0.5% - 900 sec - 10°","x":8.6,"y":25200},{"s":"Cu 0.5% - 900 sec - 10°","x":9.3,"y":25200},{"s":"Cu 0.5% - 900 sec - 10°","x":10.0,"y":25200},{"s":"Cu 0.5% - 900 sec - 10°","x":10.8,"y":25100},{"s":"Cu 0.5% - 900 sec - 10°","x":11.6,"y":25100},{"s":"Cu 0.5% - 900 sec - 10°","x":12.4,"y":25100},{"s":"Cu 0.5% - 900 sec - 10°","x":13.1,"y":25000},{"s":"Cu 0.5% - 900 sec - 10°","x":13.1,"y":17480},{"s":"Cu 0.5% - 900 sec - 10°","x":12.25,"y":11830},{"s":"Cu 0.5% - 900 sec - 10°","x":11.6,"y":7310},{"s":"Cu 0.5% - 900 sec - 10°","x":10.4,"y":1210}
]
},
"vconcat": [
{
  "width": 428, "height": 353,
  "layer": [
    {"data": {"values": [{}]}, "mark": {"type": "rect", "filled": false, "stroke": "#000000", "strokeWidth": 2, "clip": false},
     "encoding": {"x": {"datum": -14.67, "type": "quantitative", "scale": {"domain": [0, 40], "nice": false, "zero": false}, "axis": {"title": "Half bending angle [°]", "values": [0, 10, 20, 30, 40]}}, "x2": {"datum": 56.17}, "y": {"datum": 42720, "type": "quantitative", "scale": {"domain": [0, 40000], "nice": false}, "axis": {"title": "Bending moment [Nmm]", "values": [0, 5000, 10000, 15000, 20000, 25000, 30000, 35000, 40000], "format": "d"}}, "y2": {"datum": -10650}}},
    {"data": {"values": [{}]}, "mark": {"type": "rect", "fill": "#9a9a9a", "clip": false},
     "encoding": {"x": {"datum": 40.56, "type": "quantitative"}, "x2": {"datum": 55.98}, "y": {"datum": 40113, "type": "quantitative"}, "y2": {"datum": -227}}},
    {"data": {"values": [{}]}, "mark": {"type": "rect", "fill": "#ffffff", "stroke": "#000000", "strokeWidth": 1, "clip": false},
     "encoding": {"x": {"datum": 40.28, "type": "quantitative"}, "x2": {"datum": 55.7}, "y": {"datum": 40453, "type": "quantitative"}, "y2": {"datum": 113}}},
    {"data": {"name": "a"},
     "encoding": {
       "x": {"field": "x", "type": "quantitative"},
       "y": {"field": "y", "type": "quantitative"},
       "color": {"field": "s", "type": "nominal", "sort": null, "scale": {"domain": ["Sn 3% - 15 sec - 30°","Sn 3% - 15 sec - 20°","Sn 3% - 15 sec - 10°","Sn 3% - 60 sec - 30°","Sn 3% - 60 sec - 20°","Sn 3% - 60 sec - 10°","Sn 3% - 180 sec - 30°","Sn 3% - 180 sec - 20°","Sn 3% - 180 sec - 10°","Sn 3% - 360 sec - 30°","Sn 3% - 360 sec - 20°","Sn 3% - 360 sec - 10°","Sn 3% - 900 sec - 30°","Sn 3% - 900 sec - 20°","Sn 3% - 900 sec - 10°"], "range": ["#8080FF","#8080FF","#8080FF","#1A1A1A","#1A1A1A","#1A1A1A","#22B573","#22B573","#22B573","#F79646","#F79646","#F79646","#FF2020","#FF2020","#FF2020"]}, "legend": {"title": null, "orient": "none", "legendX": 457, "legendY": 4, "zindex": 1}},
       "shape": {"field": "s", "type": "nominal", "sort": null, "scale": {"domain": ["Sn 3% - 15 sec - 30°","Sn 3% - 15 sec - 20°","Sn 3% - 15 sec - 10°","Sn 3% - 60 sec - 30°","Sn 3% - 60 sec - 20°","Sn 3% - 60 sec - 10°","Sn 3% - 180 sec - 30°","Sn 3% - 180 sec - 20°","Sn 3% - 180 sec - 10°","Sn 3% - 360 sec - 30°","Sn 3% - 360 sec - 20°","Sn 3% - 360 sec - 10°","Sn 3% - 900 sec - 30°","Sn 3% - 900 sec - 20°","Sn 3% - 900 sec - 10°"], "range": ["diamond","diamond","diamond","square","square","square","triangle-up","triangle-up","triangle-up","circle","circle","circle","M0,-1L0,1M-0.87,-0.5L0.87,0.5M-0.87,0.5L0.87,-0.5","M0,-1L0,1M-0.87,-0.5L0.87,0.5M-0.87,0.5L0.87,-0.5","M0,-1L0,1M-0.87,-0.5L0.87,0.5M-0.87,0.5L0.87,-0.5"]}, "legend": {"title": null, "orient": "none", "legendX": 457, "legendY": 4, "zindex": 1}}
     },
     "layer": [
       {"transform": [{"filter": "indexof(datum.s, '30°') >= 0"}], "mark": {"type": "point", "filled": false, "strokeWidth": 1, "opacity": 1, "size": 130}},
       {"transform": [{"filter": "indexof(datum.s, '20°') >= 0"}], "mark": {"type": "point", "filled": false, "strokeWidth": 1, "opacity": 1, "size": 64}},
       {"transform": [{"filter": "indexof(datum.s, '10°') >= 0"}], "mark": {"type": "point", "filled": false, "strokeWidth": 1, "opacity": 1, "size": 30}}
     ]},
    {"data": {"values": [{}]}, "mark": {"type": "text", "text": "a)", "font": "Liberation Serif", "fontSize": 22, "align": "left", "baseline": "alphabetic", "color": "#000000", "clip": false},
     "encoding": {"x": {"datum": 57.38, "type": "quantitative"}, "y": {"datum": -10200, "type": "quantitative"}}}
  ]
},
{
  "width": 428, "height": 353,
  "layer": [
    {"data": {"values": [{}]}, "mark": {"type": "rect", "filled": false, "stroke": "#000000", "strokeWidth": 2, "clip": false},
     "encoding": {"x": {"datum": -14.67, "type": "quantitative", "scale": {"domain": [0, 40], "nice": false, "zero": false}, "axis": {"title": "Half bending angle [°]", "values": [0, 10, 20, 30, 40]}}, "x2": {"datum": 56.17}, "y": {"datum": 42720, "type": "quantitative", "scale": {"domain": [0, 40000], "nice": false}, "axis": {"title": "Bending moment [Nmm]", "values": [0, 5000, 10000, 15000, 20000, 25000, 30000, 35000, 40000], "format": "d"}}, "y2": {"datum": -10650}}},
    {"data": {"values": [{}]}, "mark": {"type": "rect", "fill": "#9a9a9a", "clip": false},
     "encoding": {"x": {"datum": 40.56, "type": "quantitative"}, "x2": {"datum": 55.98}, "y": {"datum": 40113, "type": "quantitative"}, "y2": {"datum": -227}}},
    {"data": {"values": [{}]}, "mark": {"type": "rect", "fill": "#ffffff", "stroke": "#000000", "strokeWidth": 1, "clip": false},
     "encoding": {"x": {"datum": 40.28, "type": "quantitative"}, "x2": {"datum": 55.7}, "y": {"datum": 40453, "type": "quantitative"}, "y2": {"datum": 113}}},
    {"data": {"name": "b"},
     "encoding": {
       "x": {"field": "x", "type": "quantitative"},
       "y": {"field": "y", "type": "quantitative"},
       "color": {"field": "s", "type": "nominal", "sort": null, "scale": {"domain": ["Cu 0.5% - 15 sec - 30°","Cu 0.5% - 15 sec - 20°","Cu 0.5% - 15 sec - 10°","Cu 0.5% - 60 sec - 30°","Cu 0.5% - 60 sec - 20°","Cu 0.5% - 60 sec - 10°","Cu 0.5% - 180 sec - 30°","Cu 0.5% - 180 sec - 20°","Cu 0.5% - 180 sec - 10°","Cu 0.5% - 360 sec - 30°","Cu 0.5% - 360 sec - 20°","Cu 0.5% - 360 sec - 10°","Cu 0.5% - 900 sec - 30°","Cu 0.5% - 900 sec - 20°","Cu 0.5% - 900 sec - 10°"], "range": ["#8080FF","#8080FF","#8080FF","#1A1A1A","#1A1A1A","#1A1A1A","#22B573","#22B573","#22B573","#F79646","#F79646","#F79646","#FF2020","#FF2020","#FF2020"]}, "legend": {"title": null, "orient": "none", "legendX": 457, "legendY": 4, "zindex": 1}},
       "shape": {"field": "s", "type": "nominal", "sort": null, "scale": {"domain": ["Cu 0.5% - 15 sec - 30°","Cu 0.5% - 15 sec - 20°","Cu 0.5% - 15 sec - 10°","Cu 0.5% - 60 sec - 30°","Cu 0.5% - 60 sec - 20°","Cu 0.5% - 60 sec - 10°","Cu 0.5% - 180 sec - 30°","Cu 0.5% - 180 sec - 20°","Cu 0.5% - 180 sec - 10°","Cu 0.5% - 360 sec - 30°","Cu 0.5% - 360 sec - 20°","Cu 0.5% - 360 sec - 10°","Cu 0.5% - 900 sec - 30°","Cu 0.5% - 900 sec - 20°","Cu 0.5% - 900 sec - 10°"], "range": ["diamond","diamond","diamond","square","square","square","triangle-up","triangle-up","triangle-up","circle","circle","circle","M0,-1L0,1M-0.87,-0.5L0.87,0.5M-0.87,0.5L0.87,-0.5","M0,-1L0,1M-0.87,-0.5L0.87,0.5M-0.87,0.5L0.87,-0.5","M0,-1L0,1M-0.87,-0.5L0.87,0.5M-0.87,0.5L0.87,-0.5"]}, "legend": {"title": null, "orient": "none", "legendX": 457, "legendY": 4, "zindex": 1}}
     },
     "layer": [
       {"transform": [{"filter": "indexof(datum.s, '30°') >= 0"}], "mark": {"type": "point", "filled": false, "strokeWidth": 1, "opacity": 1, "size": 130}},
       {"transform": [{"filter": "indexof(datum.s, '20°') >= 0"}], "mark": {"type": "point", "filled": false, "strokeWidth": 1, "opacity": 1, "size": 64}},
       {"transform": [{"filter": "indexof(datum.s, '10°') >= 0"}], "mark": {"type": "point", "filled": false, "strokeWidth": 1, "opacity": 1, "size": 30}}
     ]},
    {"data": {"values": [{}]}, "mark": {"type": "text", "text": "b)", "font": "Liberation Serif", "fontSize": 22, "align": "left", "baseline": "alphabetic", "color": "#000000", "clip": false},
     "encoding": {"x": {"datum": 57.38, "type": "quantitative"}, "y": {"datum": -10200, "type": "quantitative"}}}
  ]
}
]
}
